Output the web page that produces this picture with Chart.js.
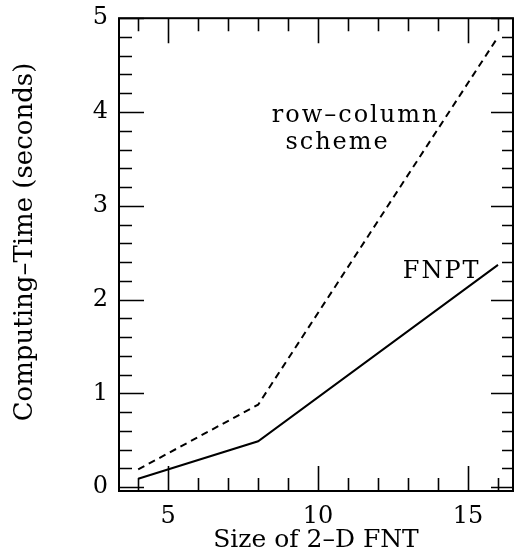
<!DOCTYPE html>
<html>
<head>
<meta charset="utf-8">
<script src="https://cdn.jsdelivr.net/npm/chart.js@4"></script>
<style>
  html, body { margin: 0; padding: 0; background: #fff; }
  #wrap { width: 515px; height: 557px; }
</style>
</head>
<body>
<div id="wrap"><canvas id="chart" width="515" height="557"></canvas></div>
<script>
// FNT sizes and computing times (seconds)
const sizes = [4, 8, 16];
const rowColumnTimes = [0.19, 0.88, 4.80];
const fnptTimes = [0.09, 0.49, 2.37];

const xTickLabels = [5, 10, 15];
const yTickLabels = [0, 1, 2, 3, 4, 5];

const FONT = 'DejaVu Serif';

function toPoints(xs, ys) {
    return xs.map((x, i) => ({ x: x, y: ys[i] }));
}

// frame, inward ticks on all four sides, y title and the line labels
const framePlugin = {
    id: 'frame',
    afterDatasetsDraw(chart) {
        const { ctx, chartArea: a, scales: { x, y } } = chart;
        ctx.save();
        ctx.strokeStyle = '#000';
        ctx.lineWidth = 2;
        ctx.strokeRect(a.left, a.top, a.right - a.left, a.bottom - a.top);

        ctx.lineWidth = 1.6;
        ctx.beginPath();
        for (let v = 4; v <= 16; v++) {
            const px = Math.round(x.getPixelForValue(v)) + 0.5;
            const len = v % 5 === 0 ? 25 : 13;
            ctx.moveTo(px, a.bottom); ctx.lineTo(px, a.bottom - len);
            ctx.moveTo(px, a.top); ctx.lineTo(px, a.top + len);
        }
        for (let i = 0; i <= 25; i++) {
            const v = i / 5;
            const py = Math.round(y.getPixelForValue(v)) + 0.5;
            const major = i % 5 === 0;
            ctx.moveTo(a.left, py); ctx.lineTo(a.left + (major ? 25 : 13), py);
            ctx.moveTo(a.right, py); ctx.lineTo(a.right - (major ? 22 : 11), py);
        }
        ctx.stroke();

        ctx.fillStyle = '#000';
        ctx.textAlign = 'center';
        ctx.textBaseline = 'middle';

        ctx.save();
        ctx.translate(25, 242);
        ctx.rotate(-Math.PI / 2);
        ctx.font = '26px "' + FONT + '"';
        ctx.fillText('Computing–Time (seconds)', 0, 0);
        ctx.restore();

        ctx.font = '24px "' + FONT + '"';
        ctx.letterSpacing = '2px';
        ctx.fillText('row–column', x.getPixelForValue(11.25), y.getPixelForValue(3.96));
        ctx.fillText('scheme', x.getPixelForValue(10.65), y.getPixelForValue(3.67));
        ctx.fillText('FNPT', x.getPixelForValue(14.12), y.getPixelForValue(2.30));
        ctx.restore();
    }
};

new Chart(document.getElementById('chart'), {
    type: 'line',
    data: {
        datasets: [{
            label: 'row–column scheme',
            data: toPoints(sizes, rowColumnTimes),
            borderColor: '#000',
            borderWidth: 2,
            borderDash: [7, 5],
            pointRadius: 0,
            fill: false,
            tension: 0
        }, {
            label: 'FNPT',
            data: toPoints(sizes, fnptTimes),
            borderColor: '#000',
            borderWidth: 2,
            pointRadius: 0,
            fill: false,
            tension: 0
        }]
    },
    options: {
        responsive: false,
        animation: false,
        devicePixelRatio: 1,
        layout: { padding: { top: 11, right: 2, left: 0, bottom: 0 } },
        plugins: {
            legend: { display: false },
            tooltip: { enabled: false }
        },
        scales: {
            x: {
                type: 'linear',
                min: 3.36,
                max: 16.5,
                afterBuildTicks: (scale) => { scale.ticks = xTickLabels.map(v => ({ value: v })); },
                afterFit: (scale) => { scale.height = 66; },
                grid: { display: false, drawTicks: false },
                border: { display: false },
                ticks: {
                    color: '#000',
                    padding: 11,
                    maxRotation: 0,
                    font: { family: FONT, size: 24 }
                },
                title: {
                    display: true,
                    text: 'Size of 2–D FNT',
                    color: '#000',
                    padding: { top: 0, bottom: 2 },
                    font: { family: FONT, size: 25 }
                }
            },
            y: {
                type: 'linear',
                min: -0.04,
                max: 5,
                afterBuildTicks: (scale) => { scale.ticks = yTickLabels.map(v => ({ value: v })); },
                afterFit: (scale) => { scale.width = 119; },
                grid: { display: false, drawTicks: false },
                border: { display: false },
                ticks: {
                    color: '#000',
                    padding: 11,
                    font: { family: FONT, size: 24, lineHeight: 0.6 }
                },
                title: { display: false }
            }
        }
    },
    plugins: [framePlugin]
});
</script>
</body>
</html>
